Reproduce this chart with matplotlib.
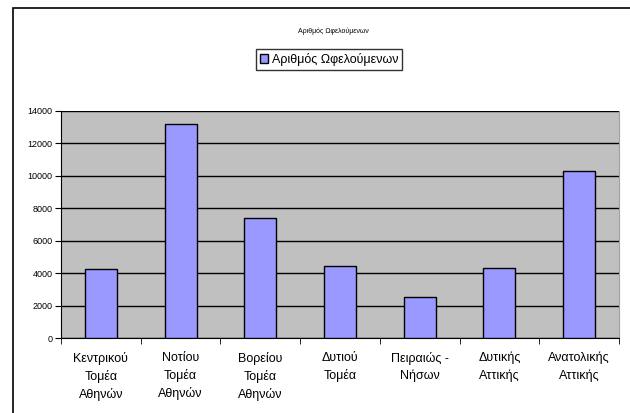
import matplotlib
matplotlib.use("Agg")
import matplotlib.pyplot as plt
from matplotlib.patches import Rectangle

plt.rcParams['font.family'] = ['Liberation Sans', 'DejaVu Sans']

# data
categories = ["Κεντρικού\nΤομέα\nΑθηνών", "Νοτίου\nΤομέα\nΑθηνών", "Βορείου\nΤομέα\nΑθηνών",
              "Δυτιού\nΤομέα", "Πειραιώς -\nΝήσων", "Δυτικής\nΑττικής", "Ανατολικής\nΑττικής"]
values = [4280, 13180, 7420, 4460, 2510, 4300, 10330]
yticks = [0, 2000, 4000, 6000, 8000, 10000, 12000, 14000]
series_name = "Αριθμός Ωφελούμενων"

W, H = 630, 413
fig = plt.figure(figsize=(W / 100, H / 100), dpi=100)

# outer chart border (clipped on right and bottom in the reference)
fig.patches.append(Rectangle((13 / W, -0.1), 1.1, 1 - 8 / H + 0.1, transform=fig.transFigure,
                             fill=False, edgecolor='black', linewidth=1.2))

ax = fig.add_axes([61 / W, 1 - 338 / H, (619 - 61) / W, (338 - 111) / H])
ax.set_facecolor('#C0C0C0')

x = list(range(len(categories)))
bars = ax.bar(x, values, width=0.4, color='#9999FF', edgecolor='black', linewidth=1,
              label=series_name, zorder=3)

ax.set_xlim(-0.5, len(categories) - 0.5)
ax.set_ylim(0, 14000)
ax.set_yticks(yticks)
ax.set_yticklabels([str(v) for v in yticks], fontsize=6.5)
ax.yaxis.grid(True, color='black', linewidth=1)
ax.set_axisbelow(True)

# category labels centred, tick marks between categories
ax.set_xticks(x)
ax.set_xticklabels(categories, fontsize=9, linespacing=1.5)
ax.tick_params(axis='x', length=0, pad=10)
ax.set_xticks([i - 0.5 for i in range(len(categories) + 1)], minor=True)
ax.tick_params(axis='x', which='minor', length=4, direction='out', color='black')
ax.tick_params(axis='y', length=4, direction='out', color='black', pad=2)

ax.spines['top'].set_visible(False)
ax.spines['right'].set_color('#A0A0A0')
for s in ['left', 'bottom']:
    ax.spines[s].set_color('black')

fig.text(333 / W, 1 - 31 / H, series_name, fontsize=5, ha='center', va='center')

leg = fig.legend(handles=[bars], labels=[series_name], loc='center',
                 bbox_to_anchor=(329 / W, 1 - 59.7 / H), fontsize=9, frameon=True,
                 fancybox=False, edgecolor='black', handlelength=0.7, handleheight=0.7,
                 handletextpad=0.3, borderpad=0.3, borderaxespad=0)
leg.get_frame().set_linewidth(1)

fig.savefig('out.png', dpi=100)
